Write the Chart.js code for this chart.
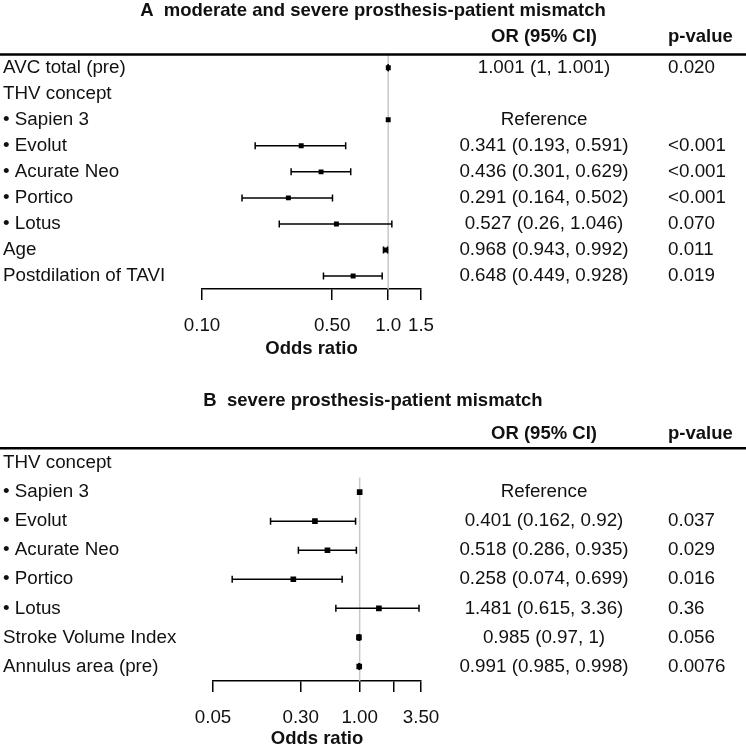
<!DOCTYPE html>
<html>
<head>
<meta charset="utf-8">
<script src="https://cdn.jsdelivr.net/npm/chart.js@4.4.1/dist/chart.umd.min.js"></script>
<style>
  body { margin: 0; background: #fff; }
  #wrapA { position: absolute; left: 0; top: 0; }
  #wrapB { position: absolute; left: 0; top: 366px; }
</style>
</head>
<body>
<div id="wrapA"><canvas id="chartA" width="746" height="366"></canvas></div>
<div id="wrapB"><canvas id="chartB" width="746" height="380"></canvas></div>
<script>
// panel A: moderate and severe PPM
const titleA = 'A  moderate and severe prosthesis-patient mismatch';
const rowsA = ['AVC total (pre)', 'THV concept', '• Sapien 3', '• Evolut', '• Acurate Neo', '• Portico', '• Lotus', 'Age', 'Postdilation of TAVI'];
const orA = [1.001, null, 1, 0.341, 0.436, 0.291, 0.527, 0.968, 0.648];
const loA = [1, null, null, 0.193, 0.301, 0.164, 0.26, 0.943, 0.449];
const hiA = [1.001, null, null, 0.591, 0.629, 0.502, 1.046, 0.992, 0.928];
const orTextA = ['1.001 (1, 1.001)', '', 'Reference', '0.341 (0.193, 0.591)', '0.436 (0.301, 0.629)', '0.291 (0.164, 0.502)', '0.527 (0.26, 1.046)', '0.968 (0.943, 0.992)', '0.648 (0.449, 0.928)'];
const pTextA = ['0.020', '', '', '<0.001', '<0.001', '<0.001', '0.070', '0.011', '0.019'];
const ticksA = [0.1, 0.5, 1, 1.5];
const tickLabelsA = ['0.10', '0.50', '1.0', '1.5'];

// panel B: severe PPM
const titleB = 'B  severe prosthesis-patient mismatch';
const rowsB = ['THV concept', '• Sapien 3', '• Evolut', '• Acurate Neo', '• Portico', '• Lotus', 'Stroke Volume Index', 'Annulus area (pre)'];
const orB = [null, 1, 0.401, 0.518, 0.258, 1.481, 0.985, 0.991];
const loB = [null, null, 0.162, 0.286, 0.074, 0.615, 0.97, 0.985];
const hiB = [null, null, 0.92, 0.935, 0.699, 3.36, 1, 0.998];
const orTextB = ['', 'Reference', '0.401 (0.162, 0.92)', '0.518 (0.286, 0.935)', '0.258 (0.074, 0.699)', '1.481 (0.615, 3.36)', '0.985 (0.97, 1)', '0.991 (0.985, 0.998)'];
const pTextB = ['', '', '0.037', '0.029', '0.016', '0.36', '0.056', '0.0076'];
const ticksB = [0.05, 0.3, 1, 2, 3.5];
const tickLabelsB = ['0.05', '0.30', '1.00', '', '3.50'];

const FONT = "'Liberation Sans', Arial, sans-serif";
const SIZE = 18.8;
const INK = '#111';

const forestTable = {
    id: 'forestTable',
    beforeDatasetsDraw(chart) {
        const o = chart.options.plugins.forestTable;
        const ctx = chart.ctx;
        const ys = chart.scales.y;
        const x1 = chart.scales.x.getPixelForValue(1);
        const first = o.or.findIndex(v => v !== null);
        const half = (ys.getPixelForValue(1) - ys.getPixelForValue(0)) / 2;
        ctx.save();
        ctx.strokeStyle = '#c8c8c8';
        ctx.lineWidth = 1.5;
        ctx.beginPath();
        ctx.moveTo(x1, ys.getPixelForValue(first) - half);
        ctx.lineTo(x1, chart.chartArea.bottom);
        ctx.stroke();
        ctx.restore();
    },
    afterDraw(chart) {
        const o = chart.options.plugins.forestTable;
        const ctx = chart.ctx;
        const ys = chart.scales.y;
        ctx.save();
        ctx.fillStyle = INK;
        ctx.textBaseline = 'middle';

        ctx.font = 'bold 18.5px ' + FONT;
        ctx.textAlign = 'center';
        ctx.fillText(o.title, chart.width / 2, o.titleY);
        ctx.fillText('OR (95% CI)', o.orX, o.headerY);
        ctx.textAlign = 'left';
        ctx.fillText('p-value', o.pX, o.headerY);

        ctx.strokeStyle = '#000';
        ctx.lineWidth = 2.5;
        ctx.beginPath();
        ctx.moveTo(0, o.ruleY);
        ctx.lineTo(chart.width, o.ruleY);
        ctx.stroke();

        ctx.font = SIZE + 'px ' + FONT;
        o.orText.forEach((t, i) => {
            const y = ys.getPixelForValue(i);
            ctx.textAlign = 'center';
            ctx.fillText(t, o.orX, y);
            ctx.textAlign = 'left';
            ctx.fillText(o.pText[i], o.pX, y);
        });
        ctx.restore();
    }
};

function makeForest(id, p) {
    const squares = [];
    const datasets = [];
    p.rows.forEach((r, i) => {
        if (p.or[i] !== null) squares.push({x: p.or[i], y: r});
    });
    datasets.push({
        data: squares,
        pointStyle: 'rect',
        pointRadius: p.mark,
        backgroundColor: '#000',
        borderWidth: 0
    });
    p.rows.forEach((r, i) => {
        if (p.lo[i] === null) return;
        datasets.push({
            data: [{x: p.lo[i], y: r}, {x: p.hi[i], y: r}],
            showLine: true,
            borderColor: '#000',
            borderWidth: 1.5,
            pointStyle: 'line',
            pointRotation: 90,
            pointRadius: 3.5,
            pointBorderColor: '#000',
            pointBorderWidth: 1.5
        });
    });

    return new Chart(document.getElementById(id), {
        type: 'scatter',
        data: { datasets: datasets },
        options: {
            responsive: false,
            animation: false,
            layout: { padding: p.pad },
            plugins: {
                legend: { display: false },
                tooltip: { enabled: false },
                forestTable: {
                    title: p.title, titleY: p.titleY, headerY: p.headerY, ruleY: p.ruleY,
                    orX: 544, pX: 668, or: p.or, orText: p.orText, pText: p.pText
                }
            },
            scales: {
                x: {
                    type: 'logarithmic',
                    min: p.ticks[0],
                    max: p.ticks[p.ticks.length - 1],
                    afterBuildTicks: s => { s.ticks = p.ticks.map(v => ({value: v})); },
                    afterFit: s => { s.height = p.xHeight; },
                    ticks: {
                        autoSkip: false,
                        maxRotation: 0,
                        padding: 15,
                        color: INK,
                        font: { family: FONT, size: SIZE },
                        callback: (v, i) => p.tickLabels[i]
                    },
                    grid: { drawOnChartArea: false, tickLength: 11, color: '#000', lineWidth: 1.5 },
                    border: { display: true, color: '#000', width: 1.5 },
                    title: {
                        display: true,
                        text: 'Odds ratio',
                        color: INK,
                        padding: 0,
                        font: { family: FONT, size: 18.5, weight: 'bold', lineHeight: 0.8 }
                    }
                },
                y: {
                    type: 'category',
                    labels: p.rows,
                    offset: true,
                    afterFit: s => { s.width = p.yWidth; },
                    ticks: {
                        autoSkip: false,
                        crossAlign: 'far',
                        color: INK,
                        font: { family: FONT, size: SIZE }
                    },
                    grid: { display: false },
                    border: { display: false }
                }
            }
        },
        plugins: [forestTable]
    });
}

makeForest('chartA', {
    title: titleA, rows: rowsA, or: orA, lo: loA, hi: hiA, orText: orTextA, pText: pTextA,
    ticks: ticksA, tickLabels: tickLabelsA, mark: 3.5,
    titleY: 11, headerY: 37, ruleY: 54.5, yWidth: 199, xHeight: 67,
    pad: { top: 54.7, bottom: 10, left: 3, right: 325 }
});

makeForest('chartB', {
    title: titleB, rows: rowsB, or: orB, lo: loB, hi: hiB, orText: orTextB, pText: pTextB,
    ticks: ticksB, tickLabels: tickLabelsB, mark: 4,
    titleY: 35, headerY: 68, ruleY: 82.3, yWidth: 210, xHeight: 65,
    pad: { top: 82.5, bottom: 0, left: 3, right: 325 }
});
</script>
</body>
</html>
